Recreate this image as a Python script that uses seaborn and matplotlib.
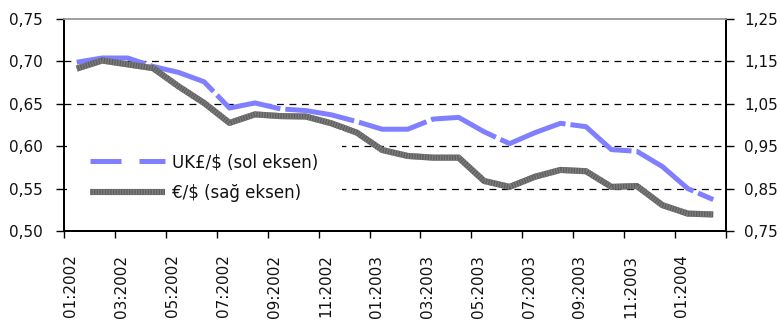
import matplotlib
matplotlib.use("Agg")
import matplotlib.pyplot as plt
import matplotlib.transforms as mtransforms
from matplotlib.lines import Line2D
import seaborn as sns
import pandas as pd
import numpy as np

# Monthly averages, Jan 2002 - Feb 2004
months = ["01:2002", "02:2002", "03:2002", "04:2002", "05:2002", "06:2002",
          "07:2002", "08:2002", "09:2002", "10:2002", "11:2002", "12:2002",
          "01:2003", "02:2003", "03:2003", "04:2003", "05:2003", "06:2003",
          "07:2003", "08:2003", "09:2003", "10:2003", "11:2003", "12:2003",
          "01:2004", "02:2004"]
gbp_usd = [0.699, 0.704, 0.704, 0.694, 0.687, 0.676, 0.645, 0.651, 0.644,
           0.642, 0.637, 0.629, 0.620, 0.620, 0.632, 0.634, 0.617, 0.603,
           0.616, 0.627, 0.623, 0.596, 0.594, 0.576, 0.550, 0.537]
eur_usd = [1.133, 1.152, 1.143, 1.134, 1.091, 1.052, 1.005, 1.025, 1.021,
           1.020, 1.004, 0.982, 0.941, 0.927, 0.923, 0.923, 0.868, 0.854,
           0.878, 0.894, 0.891, 0.854, 0.856, 0.811, 0.791, 0.789]
series_names = ["UK£/$ (sol eksen)", "€/$ (sağ eksen)"]
left_ticks = [0.50, 0.55, 0.60, 0.65, 0.70, 0.75]
left_labels = ["0,50", "0,55", "0,60", "0,65", "0,70", "0,75"]
right_ticks = [0.75, 0.85, 0.95, 1.05, 1.15, 1.25]
right_labels = ["0,75", "0,85", "0,95", "1,05", "1,15", "1,25"]

df = pd.DataFrame({"month": months, "gbp": gbp_usd, "eur": eur_usd})
df["pos"] = np.arange(len(df)) + 0.5   # category centres

sns.set_style("white")
plt.rcParams["font.family"] = ["DejaVu Sans"]
plt.rcParams["font.size"] = 11

W, H = 780, 322
fig = plt.figure(figsize=(W / 100, H / 100), dpi=100)
ax = fig.add_axes([64 / W, 1 - 231 / H, (726 - 64) / W, (231 - 19) / H])
ax2 = ax.twinx()

blue = "#7f7fff"
grey = "#5e5e5e"
grey_stripe = "#7e7e7e"

sns.lineplot(data=df, x="pos", y="gbp", ax=ax, color=blue, lw=3.6,
             linestyle=(0, (14, 1)), solid_capstyle="butt",
             dash_capstyle="butt", legend=False)
sns.lineplot(data=df, x="pos", y="eur", ax=ax2, color=grey, lw=4.4,
             solid_capstyle="butt", legend=False)
# fine striped texture on the euro line
ax2.plot(df["pos"], df["eur"], color=grey_stripe, lw=4.4,
         linestyle=(0, (0.22, 0.22)), dash_capstyle="butt")

n = len(months)
for a in (ax, ax2):
    a.set_xlim(0, n)
    a.set_xlabel("")
    a.set_ylabel("")

ax.set_ylim(0.50, 0.75)
ax2.set_ylim(0.75, 1.25)
ax.set_yticks(left_ticks)
ax.set_yticklabels(left_labels)
ax2.set_yticks(right_ticks)
ax2.set_yticklabels(right_labels)

# dashed gridlines at the inner levels
for v in left_ticks[1:-1]:
    ax.axhline(v, color="black", lw=0.9, linestyle=(0, (5.5, 4.5)), zorder=0)

# category axis: tick marks every second month boundary, labels under them
ax.set_xticks(np.arange(0, n + 1, 2))
ax.set_xticklabels([])
ax.set_xticks(df["pos"].iloc[::2], minor=True)
ax.set_xticklabels(df["month"].iloc[::2], minor=True, rotation=90)
ax.tick_params(axis="x", which="major", direction="out", length=5,
               width=1, color="black", bottom=True)
ax.tick_params(axis="x", which="minor", length=0, pad=17)
shift = mtransforms.ScaledTranslation(-6 / 100, 0, fig.dpi_scale_trans)
for lbl in ax.get_xticklabels(minor=True):
    lbl.set_transform(lbl.get_transform() + shift)

ax.tick_params(axis="y", direction="out", length=6, width=1, color="black",
               left=True, pad=9)
ax2.tick_params(axis="y", direction="out", length=6, width=1, color="black",
                right=True, pad=7)
ax2.tick_params(axis="x", which="both", length=0)

for a in (ax, ax2):
    for s in ("left", "right", "bottom"):
        a.spines[s].set_color("black")
        a.spines[s].set_linewidth(1.3)
    a.spines["top"].set_color("#a0a0a0")
    a.spines["top"].set_linewidth(1.2)

for lbl in ax.get_yticklabels() + ax2.get_yticklabels() + ax.get_xticklabels(minor=True):
    lbl.set_color("#111111")

# legend proxies
h_gbp = Line2D([], [], color=blue, lw=3.6, linestyle=(0, (6.2, 3.6)),
               dash_capstyle="butt")
h_eur_base = Line2D([], [], color=grey, lw=4.4, solid_capstyle="butt")
h_eur_tex = Line2D([], [], color=grey_stripe, lw=4.4,
                   linestyle=(0, (0.22, 0.22)), dash_capstyle="butt")
leg = ax2.legend([h_gbp, (h_eur_base, h_eur_tex)], series_names,
                 loc="upper left", bbox_to_anchor=(3 / 662, 1 - 111 / 212),
                 frameon=True, facecolor="white", edgecolor="none",
                 framealpha=1, fancybox=False, handlelength=4.5,
                 handletextpad=0.4, labelspacing=0.78, borderpad=1.4,
                 borderaxespad=0, fontsize=12)
for t in leg.get_texts():
    t.set_color("#111111")

fig.savefig("out.png", dpi=100)
